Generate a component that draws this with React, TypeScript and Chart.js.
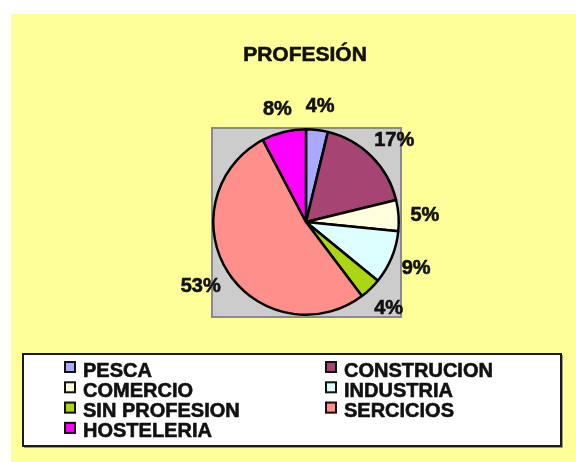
import React, { useEffect, useRef } from "react";
import { Chart, registerables } from "chart.js";

Chart.register(...registerables);

const TITLE = "PROFESIÓN";
const categories = ["PESCA", "CONSTRUCION", "COMERCIO", "INDUSTRIA", "SIN PROFESION", "SERCICIOS", "HOSTELERIA"];
const values = [3.8, 17.4, 5.4, 9.3, 3.8, 52.6, 7.7];
const colors = ["#A9A9FF", "#A64473", "#FFFFDD", "#DDFFFF", "#AAD711", "#FF8F8A", "#FF00FF"];

const FONT = "Arial, 'Liberation Sans', sans-serif";
const TEXT = "#111111";

function boldText(ctx: CanvasRenderingContext2D, t: string, x: number, y: number) {
  ctx.fillText(t, x, y);
  ctx.strokeText(t, x, y);
}

const decorPlugin = {
  id: "decor",
  beforeDraw(chart: any) {
    const ctx = chart.ctx as CanvasRenderingContext2D;
    ctx.save();
    ctx.fillStyle = "#ffffff";
    ctx.fillRect(0, 0, chart.width, chart.height);
    ctx.fillStyle = "#FFFF99";
    ctx.fillRect(11, 14, chart.width - 11, chart.height - 14);
    // plot area square
    ctx.fillStyle = "#CCCCCC";
    ctx.fillRect(212, 128, 189, 189);
    ctx.strokeStyle = "#8A8A8A";
    ctx.lineWidth = 2;
    ctx.strokeRect(212, 128, 189, 189);
    // title
    ctx.fillStyle = TEXT;
    ctx.strokeStyle = TEXT;
    ctx.lineWidth = 0.6;
    ctx.font = `bold 21px ${FONT}`;
    ctx.textAlign = "center";
    ctx.textBaseline = "alphabetic";
    boldText(ctx, TITLE, 305, 61);
    ctx.restore();
  },
  afterDraw(chart: any) {
    const ctx = chart.ctx as CanvasRenderingContext2D;
    const meta = chart.getDatasetMeta(0);
    const total = values.reduce((a, b) => a + b, 0);
    ctx.save();
    ctx.fillStyle = TEXT;
    ctx.strokeStyle = TEXT;
    ctx.lineWidth = 0.6;
    ctx.font = `bold 20px ${FONT}`;
    ctx.textAlign = "center";
    ctx.textBaseline = "alphabetic";
    const capH = 14.3;
    meta.data.forEach((arc: any, i: number) => {
      const a = (arc.startAngle + arc.endAngle) / 2;
      const R = arc.outerRadius;
      const txt = Math.round((values[i] / total) * 100) + "%";
      const w = ctx.measureText(txt).width;
      const cx = arc.x + (R + 12 + w / 2) * Math.cos(a);
      const cy = arc.y + (R + 18 + capH / 2) * Math.sin(a);
      boldText(ctx, txt, cx, cy + capH / 2);
    });

    // legend box
    ctx.fillStyle = "#9a9a9a";
    ctx.fillRect(24, 355, 539, 93);
    ctx.fillStyle = "#ffffff";
    ctx.fillRect(23, 354, 538, 92);
    ctx.strokeStyle = "#1a1a1a";
    ctx.lineWidth = 2;
    ctx.strokeRect(23, 354, 538, 92);

    ctx.font = `bold 20px ${FONT}`;
    ctx.textAlign = "left";
    const colSw = [64, 325];
    const colTx = [83, 344];
    categories.forEach((c, i) => {
      const col = i % 2;
      const row = Math.floor(i / 2);
      const sy = 361 + row * 20.3;
      ctx.fillStyle = colors[i];
      ctx.fillRect(colSw[col], sy, 12, 12);
      ctx.strokeStyle = "#111111";
      ctx.lineWidth = 2;
      ctx.strokeRect(colSw[col] + 1, sy + 1, 10, 10);
      ctx.fillStyle = TEXT;
      ctx.strokeStyle = TEXT;
      ctx.lineWidth = 0.6;
      boldText(ctx, c, colTx[col], sy + 15.5);
    });
    ctx.restore();
  },
};

export default function App() {
  const ref = useRef<HTMLCanvasElement>(null);
  useEffect(() => {
    if (!ref.current) return;
    const chart = new Chart(ref.current, {
      type: "pie",
      data: {
        labels: categories,
        datasets: [
          {
            data: values,
            backgroundColor: colors,
            borderColor: "#000000",
            borderWidth: 2.5,
          },
        ],
      },
      options: {
        responsive: false,
        animation: false,
        devicePixelRatio: 1,
        layout: { padding: { left: 212, right: 176, top: 128, bottom: 146 } },
        plugins: {
          legend: { display: false },
          tooltip: { enabled: false },
          title: { display: false },
        },
      },
      plugins: [decorPlugin],
    });
    return () => chart.destroy();
  }, []);
  return (
    <div style={{ position: "fixed", left: 0, top: 0, width: 576, height: 462 }}>
      <canvas ref={ref} width={576} height={462} style={{ display: "block" }} />
    </div>
  );
}
